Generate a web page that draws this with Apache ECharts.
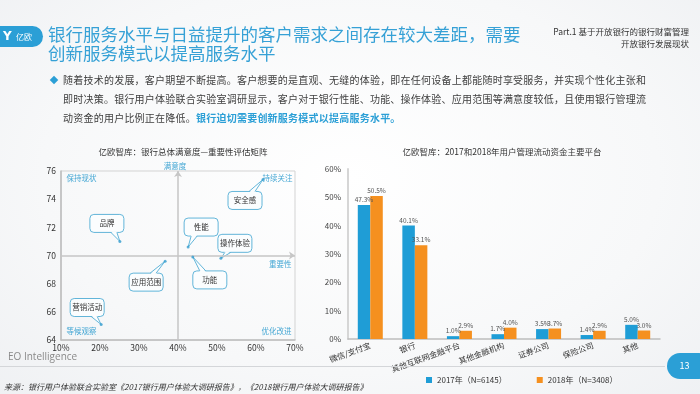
<!DOCTYPE html>
<html><head><meta charset="utf-8">
<script src="https://cdn.jsdelivr.net/npm/echarts/dist/echarts.min.js"></script>
<style>
html,body{margin:0;padding:0;}
body{width:700px;height:394px;overflow:hidden;position:relative;font-family:"Noto Sans CJK SC","Noto Sans",sans-serif;
background:radial-gradient(ellipse 80% 90% at 50% 45%, #ffffff 0%, #f7f8f9 55%, #eceef1 100%);}
#chart{position:absolute;left:0;top:0;width:700px;height:394px;}
.abs{position:absolute;white-space:nowrap;}
</style></head>
<body>
<div id="chart"></div>
<div class="abs" style="left:0;top:26px;width:43px;height:21px;background:#2b9fd6;border-radius:0 11px 11px 0;"></div>
<div class="abs" style="left:3px;top:26px;height:21px;line-height:21px;color:#fff;font-size:12px;font-weight:bold;font-family:'DejaVu Sans';">Y</div>
<div class="abs" style="left:16px;top:26px;height:21px;line-height:21px;color:#fff;font-size:8px;">亿欧</div>
<div class="abs" style="left:48px;top:24px;font-size:17.5px;line-height:19px;color:#36a1d6;">银行服务水平与日益提升的客户需求之间存在较大差距，需要<br>创新服务模式以提高服务水平</div>
<div class="abs" style="right:11px;top:25px;font-size:8.5px;line-height:12px;color:#333;text-align:right;">Part.1 基于开放银行的银行财富管理<br>开放银行发展现状</div>
<div class="abs" style="left:51px;top:77px;width:6px;height:6px;background:#2b9fd6;transform:rotate(45deg);"></div>
<div class="abs" style="left:63px;top:70px;font-size:10px;letter-spacing:0.23px;line-height:19px;color:#404040;">随着技术的发展，客户期望不断提高。客户想要的是直观、无缝的体验，即在任何设备上都能随时享受服务，并实现个性化主张和<br>即时决策。银行用户体验联合实验室调研显示，客户对于银行性能、功能、操作体验、应用范围等满意度较低，且使用银行管理流<br>动资金的用户比例正在降低。<span style="color:#2b9fd6;font-weight:bold;">银行迫切需要创新服务模式以提高服务水平。</span></div>
<div class="abs" style="left:8px;top:349px;font-size:10px;color:#8a8a8a;font-family:'Open Sans','Noto Sans',sans-serif;">EO Intelligence</div>
<div class="abs" style="left:0;top:366px;width:665px;height:1px;background:#d4d6d9;"></div>
<div class="abs" style="left:667px;top:353px;width:45px;height:26px;background:#2b9fd6;border-radius:13px;"></div>
<div class="abs" style="left:667px;top:353px;width:35px;height:26px;line-height:26px;text-align:center;color:#fff;font-size:9px;">13</div>
<div class="abs" style="left:4px;top:381px;font-size:8px;line-height:12px;color:#333;font-style:italic;">来源：银行用户体验联合实验室《2017银行用户体验大调研报告》，《2018银行用户体验大调研报告》</div>
<script>
// ---- Matrix (left) data ----
const matrixNames = ['品牌','安全感','性能','操作体验','功能','应用范围','营销活动'];
const matrixImportance = [25.1, 61.8, 42.6, 51.0, 43.8, 36.7, 20.3];   // x, %
const matrixSatisfaction = [71.0, 75.4, 70.6, 69.8, 69.9, 69.6, 65.1]; // y
const quadrantNames = ['保持现状','持续关注','等候观察','优化改进'];
const axisNames = ['满意度','重要性'];
// ---- Bar (right) data ----
const platforms = ['微信/支付宝','银行','其他互联网金融平台','其他金融机构','证券公司','保险公司','其他'];
const share2017 = [47.3, 40.1, 1.0, 1.7, 3.5, 1.4, 5.0];
const share2018 = [50.5, 33.1, 2.9, 4.0, 3.7, 2.9, 3.0];
const seriesNames = ['2017年（N=6145）','2018年（N=3408）'];

// layout only: bubble centre offset (px) from its point
const bubbleOffsets = [[-13,-18],[-18,21],[13,-20],[14,-15],[17,23],[-19,21],[-14,-17]];

const FONT = '"Noto Sans CJK SC","Noto Sans",sans-serif';
const BLUE = '#1f9dd6', ORANGE = '#f5901f', QBLUE = '#45a7d4';
const points = matrixImportance.map((x,i)=>[x, matrixSatisfaction[i]]);

function renderBubble(params, api){
  const i = params.dataIndex;
  const p = api.coord([api.value(0), api.value(1)]);
  const off = bubbleOffsets[i];
  const w = 34, h = 18;
  const cx = p[0]+off[0], cy = p[1]+off[1];
  const x0 = cx-w/2, y0 = cy-h/2;
  const below = p[1] > cy;
  const by = below ? y0+h : y0;
  const inset = below ? -1 : 1;
  const s = p[0] > cx ? 1 : -1;
  const b1 = cx+s*4, b2 = cx+s*10;
  const stroke = '#62b5d9', fill = '#fbfdfe';
  return {type:'group', children:[
    {type:'rect', shape:{x:x0,y:y0,width:w,height:h,r:4}, style:{fill:fill, stroke:stroke, lineWidth:1}},
    {type:'polygon', shape:{points:[[b1,by+inset],[p[0],p[1]],[b2,by+inset]]}, style:{fill:fill}},
    {type:'polyline', shape:{points:[[b1,by],[p[0],p[1]],[b2,by]]}, style:{stroke:stroke, lineWidth:1, fill:null}},
    {type:'text', style:{text:matrixNames[i], x:cx, y:cy, align:'center', verticalAlign:'middle', fill:'#333', font:'7.5px '+FONT}}
  ]};
}

const chart = echarts.init(document.getElementById('chart'), null, {renderer:'canvas'});
const qLabel = (name, coord, pos, offset) => ({name:name, coord:coord,
  label:{show:true, position:pos, offset:offset, formatter:name, color:QBLUE, fontSize:7.5, fontFamily:FONT}});

chart.setOption({
  animation:false,
  textStyle:{fontFamily:FONT},
  title:[
    {text:'亿欧智库：银行总体满意度—重要性评估矩阵', left:178, top:143, textAlign:'center',
     textStyle:{fontSize:8.5, fontWeight:'normal', color:'#333'}},
    {text:'亿欧智库：2017和2018年用户管理流动资金主要平台', left:497, top:143, textAlign:'center',
     textStyle:{fontSize:8.5, fontWeight:'normal', color:'#333'}}
  ],
  legend:{data:seriesNames, left:421, top:371, itemWidth:6, itemHeight:6, itemGap:30, icon:'rect',
    textStyle:{fontSize:8, color:'#333', fontFamily:FONT}},
  grid:[
    {left:61, top:171, width:234, height:169, show:true, borderColor:'#d3d3d3', borderWidth:1, backgroundColor:'transparent'},
    {left:348, top:169, width:312, height:170}
  ],
  xAxis:[
    {gridIndex:0, type:'value', min:10, max:70, interval:10,
     axisLine:{show:true, lineStyle:{color:'#bdbdbd', width:1.5}}, axisTick:{show:false}, splitLine:{show:false},
     axisLabel:{formatter:'{value}%', fontSize:8.5, color:'#333', margin:4}},
    {gridIndex:1, type:'category', data:platforms,
     axisLine:{show:true, lineStyle:{color:'#bdbdbd', width:1.5}}, axisTick:{show:false},
     axisLabel:{rotate:20, fontSize:8, color:'#333', margin:6, interval:0}}
  ],
  yAxis:[
    {gridIndex:0, type:'value', min:64, max:76, interval:2,
     axisLine:{show:true, lineStyle:{color:'#bdbdbd', width:1.5}}, axisTick:{show:false}, splitLine:{show:false},
     axisLabel:{fontSize:8.5, color:'#333', margin:5}},
    {gridIndex:1, type:'value', min:0, max:60, interval:10,
     axisLine:{show:true, lineStyle:{color:'#d6d6d6', width:2}}, axisTick:{show:false}, splitLine:{show:false},
     axisLabel:{formatter:'{value}%', fontSize:8, color:'#444', margin:7}}
  ],
  series:[
    {type:'scatter', xAxisIndex:0, yAxisIndex:0, data:points, symbolSize:3, itemStyle:{color:'#3a9fd0'}, silent:true, z:5,
     markLine:{silent:true, symbol:['none','arrow'], symbolSize:6, label:{show:false},
       lineStyle:{color:'#c6c6c6', width:1.5, type:'solid'},
       data:[[{coord:[10,70]},{coord:[70,70]}],[{coord:[40,64]},{coord:[40,76]}]]},
     markPoint:{silent:true, symbol:'rect', symbolSize:1, itemStyle:{color:'rgba(0,0,0,0)'},
       data:[
         qLabel(quadrantNames[0],[10,76],'right',[0,7]),
         qLabel(quadrantNames[1],[70,76],'left',[3,7]),
         qLabel(quadrantNames[2],[10,64],'right',[0,-9]),
         qLabel(quadrantNames[3],[70,64],'left',[2,-9]),
         qLabel(axisNames[0],[40,76],'top',[-3,4]),
         qLabel(axisNames[1],[70,70],'left',[2,9])
       ]}},
    {type:'custom', xAxisIndex:0, yAxisIndex:0, data:points, renderItem:renderBubble, clip:false, silent:true, z:4},
    {name:seriesNames[0], type:'bar', xAxisIndex:1, yAxisIndex:1, data:share2017, barWidth:12.5, barGap:'0%',
     itemStyle:{color:BLUE},
     label:{show:true, position:'top', distance:2, formatter:p=>p.value.toFixed(1)+'%', fontSize:6.5, color:'#555'}},
    {name:seriesNames[1], type:'bar', xAxisIndex:1, yAxisIndex:1, data:share2018, barWidth:12.5, barGap:'0%',
     itemStyle:{color:ORANGE},
     label:{show:true, position:'top', distance:2, formatter:p=>p.value.toFixed(1)+'%', fontSize:6.5, color:'#555'}}
  ]
});
</script>
</body></html>
